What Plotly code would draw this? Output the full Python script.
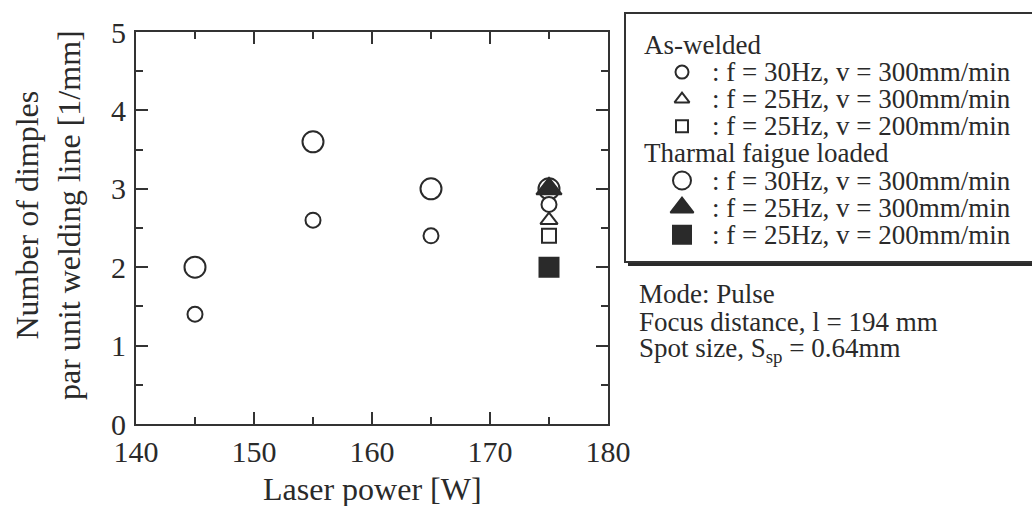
import plotly.graph_objects as go

# ---------------- data ----------------
power = [145, 155, 165, 175]
aw_circle = [1.4, 2.6, 2.4, 2.8]          # As-welded, f=30Hz, v=300
aw_tri_x = [175]
aw_tri_y = [2.6]                           # As-welded, f=25Hz, v=300
aw_sq_x = [175]
aw_sq_y = [2.4]                            # As-welded, f=25Hz, v=200
tf_circle = [2.0, 3.6, 3.0, 3.0]          # Thermal fatigue, f=30Hz, v=300
tf_tri_x = [175]
tf_tri_y = [3.0]                           # Thermal fatigue, f=25Hz, v=300
tf_sq_x = [175]
tf_sq_y = [2.0]                            # Thermal fatigue, f=25Hz, v=200

x_ticks = [140, 150, 160, 170, 180]
y_ticks = [0, 1, 2, 3, 4, 5]

legend_groups = ["As-welded", "Tharmal faigue loaded"]
legend_labels = [": f = 30Hz, v = 300mm/min",
                 ": f = 25Hz, v = 300mm/min",
                 ": f = 25Hz, v = 200mm/min"]
notes = ["Mode: Pulse",
         "Focus distance, l = 194 mm",
         "Spot size, S<sub>sp</sub> = 0.64mm"]

# ---------------- style ----------------
W, H = 1032, 506
FONT = "Liberation Serif"
INK = "#2a2a2a"
AX = "#333333"
PL, PR, PT, PB = 136, 608, 32, 424   # plot area in pixels

def mk(symbol, size, filled):
    return dict(symbol=symbol, size=size,
                color=INK if filled else "white",
                line=dict(color=INK, width=2))

fig = go.Figure()

# thermal fatigue loaded (drawn first)
fig.add_trace(go.Scatter(x=power, y=tf_circle, mode="markers",
                         marker=mk("circle", 21, False), showlegend=False))
fig.add_trace(go.Scatter(x=tf_tri_x, y=tf_tri_y, mode="markers",
                         marker=mk("triangle-up", 22, True), showlegend=False))
fig.add_trace(go.Scatter(x=tf_sq_x, y=tf_sq_y, mode="markers",
                         marker=mk("square", 19, True), showlegend=False))
# as-welded
fig.add_trace(go.Scatter(x=power, y=aw_circle, mode="markers",
                         marker=mk("circle", 15, False), showlegend=False))
fig.add_trace(go.Scatter(x=aw_tri_x, y=aw_tri_y, mode="markers",
                         marker=mk("triangle-up", 15, False), showlegend=False))
fig.add_trace(go.Scatter(x=aw_sq_x, y=aw_sq_y, mode="markers",
                         marker=mk("square", 14, False), showlegend=False))

# ---------------- legend (drawn on a pixel-space overlay axis) ----------------
row0, step = 45, 27.1
rows = [row0 + step * i for i in range(8)]
sym_x = 682
legend_markers = [
    (rows[1], mk("circle", 13, False)),
    (rows[2], mk("triangle-up", 13, False)),
    (rows[3], mk("square", 12, False)),
    (rows[5], mk("circle", 18, False)),
    (rows[6], mk("triangle-up", 20, True)),
    (rows[7], mk("square", 18, True)),
]
for yy, m in legend_markers:
    fig.add_trace(go.Scatter(x=[sym_x], y=[yy], mode="markers", marker=m,
                             xaxis="x2", yaxis="y2", showlegend=False,
                             hoverinfo="skip", cliponaxis=False))

shapes = [
    dict(type="rect", xref="x2", yref="y2", x0=628, y0=16, x1=1045, y1=266,
         fillcolor=INK, line=dict(width=0), layer="below"),
    dict(type="rect", xref="x2", yref="y2", x0=625, y0=13, x1=1040, y1=262,
         fillcolor="white", line=dict(color=AX, width=2), layer="below"),
]

ann = []
tfont = dict(family=FONT, size=27, color=INK)
for gi, g in enumerate(legend_groups):
    ann.append(dict(xref="x2", yref="y2", x=642, y=rows[gi * 4], text=g,
                    showarrow=False, xanchor="left", yanchor="middle", font=tfont))
    for li, lab in enumerate(legend_labels):
        ann.append(dict(xref="x2", yref="y2", x=710, y=rows[gi * 4 + 1 + li],
                        text=lab, showarrow=False, xanchor="left",
                        yanchor="middle", font=tfont))
for ni, n in enumerate(notes):
    ann.append(dict(xref="x2", yref="y2", x=637, y=294 + 28 * ni, text=n,
                    showarrow=False, xanchor="left", yanchor="middle", font=tfont))

# axis titles
ann.append(dict(xref="x2", yref="y2", x=48, y=215,
                text="Number of dimples<br>par unit welding line [1/mm]",
                textangle=-90, showarrow=False, xanchor="center", yanchor="middle",
                font=dict(family=FONT, size=32, color=INK)))
ann.append(dict(xref="x2", yref="y2", x=372, y=489, text="Laser power [W]",
                showarrow=False, xanchor="center", yanchor="middle",
                font=dict(family=FONT, size=32, color=INK)))

axis_common = dict(showline=True, mirror="ticks", linecolor=AX, linewidth=2,
                   ticks="inside", ticklen=12, tickwidth=2, tickcolor=AX,
                   showgrid=False, zeroline=False, automargin=False,
                   tickfont=dict(family=FONT, size=30, color=INK))

fig.update_layout(
    template="none",
    width=W, height=H,
    margin=dict(l=0, r=0, t=0, b=0, pad=0, autoexpand=False),
    paper_bgcolor="white", plot_bgcolor="rgba(0,0,0,0)",
    showlegend=False,
    xaxis=dict(domain=[PL / W, PR / W], range=[140, 180],
               tickvals=x_ticks, ticktext=[str(v) for v in x_ticks],
               minor=dict(ticks="inside", ticklen=7, tickwidth=2, tickcolor=AX, dtick=5),
               anchor="y", **axis_common),
    yaxis=dict(domain=[1 - PB / H, 1 - PT / H], range=[0, 5],
               tickvals=y_ticks, ticktext=[str(v) for v in y_ticks],
               minor=dict(ticks="inside", ticklen=7, tickwidth=2, tickcolor=AX, dtick=0.5),
               anchor="x", ticklabelstandoff=2, **axis_common),
    xaxis2=dict(domain=[0, 1], range=[0, W], visible=False, anchor="y2",
                fixedrange=True, automargin=False),
    yaxis2=dict(domain=[0, 1], range=[H, 0], visible=False, anchor="x2",
                fixedrange=True, automargin=False),
    shapes=shapes,
    annotations=ann,
)

fig.write_html("out.html")
